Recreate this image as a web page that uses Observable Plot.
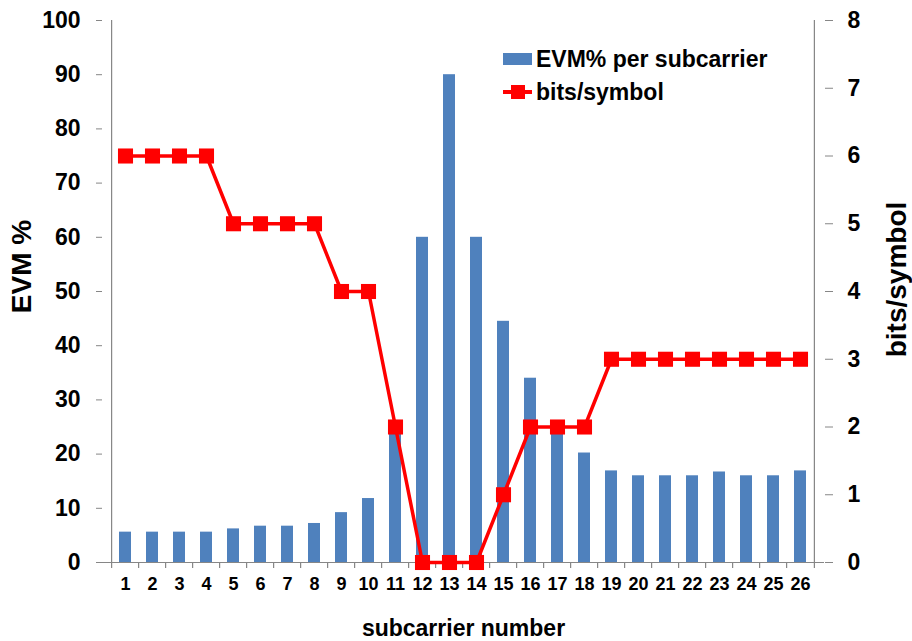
<!DOCTYPE html>
<html><head><meta charset="utf-8">
<script src="https://cdn.jsdelivr.net/npm/d3@7"></script>
<script src="https://cdn.jsdelivr.net/npm/@observablehq/plot@0.6"></script>
<style>
body{margin:0;background:#fff;font-family:"Liberation Sans",Arial,sans-serif;}
#wrap{position:relative;width:912px;height:641px;overflow:hidden;}
.lg{position:absolute;left:503px;font-weight:bold;font-size:23px;color:#000;display:flex;align-items:center;height:24px;white-space:nowrap;}
.sw{width:29px;height:12px;background:#4F81BD;margin-right:4px;}
.ln{position:relative;width:29px;height:4px;background:#ff0000;margin-right:4px;}
.ln::after{content:"";position:absolute;left:8px;top:-5px;width:14px;height:14px;background:#ff0000;}
</style></head><body>
<div id="wrap"></div>
<script>
const subcarriers = [1,2,3,4,5,6,7,8,9,10,11,12,13,14,15,16,17,18,19,20,21,22,23,24,25,26];
const evmPercent = [5.6,5.6,5.6,5.6,6.2,6.7,6.7,7.2,9.2,11.8,25,60,90,60,44.5,34,25,20.2,16.9,16,16,16,16.7,16,16,16.9];
const bitsPerSymbol = [6,6,6,6,5,5,5,5,4,4,2,0,0,0,1,2,2,2,3,3,3,3,3,3,3,3];
const leftTicks = [0,10,20,30,40,50,60,70,80,90,100];
const rightTicks = [0,1,2,3,4,5,6,7,8];
const legendLabels = ["EVM% per subcarrier","bits/symbol"];

const data = subcarriers.map((n,i)=>({n, evm: evmPercent[i], bits: bitsPerSymbol[i]}));
const W = 912, H = 641, mL = 102, mR = 88, mT = 20, mB = 79;
const step = (W - mL - mR) / subcarriers.length;
const pxPerUnit = (H - mT - mB) / 100;
const ratio = 100 / 8; // right axis (0..8) mapped onto left axis (0..100)
const axisGray = "#868686";
const tickLen = 6 / pxPerUnit;

const chart = Plot.plot({
  width: W, height: H,
  marginLeft: mL, marginRight: mR, marginTop: mT, marginBottom: mB,
  style: {fontFamily: "'Liberation Sans', Arial, sans-serif", background: "#fff", color: "#000"},
  x: {type: "band", domain: subcarriers, paddingInner: 0.545, paddingOuter: 0.2725},
  y: {domain: [0, 100]},
  marks: [
    Plot.barY(data, {x: "n", y: "evm", fill: "#4F81BD"}),
    // axis lines
    Plot.ruleY([0], {stroke: axisGray, strokeWidth: 1.2}),
    Plot.ruleX([subcarriers[0]], {x: d => d, y1: 0, y2: 100, dx: -step/2, stroke: axisGray, strokeWidth: 1.2}),
    Plot.ruleX([subcarriers[subcarriers.length-1]], {x: d => d, y1: 0, y2: 100, dx: step/2, stroke: axisGray, strokeWidth: 1.2}),
    // x ticks at category boundaries
    Plot.ruleX(subcarriers, {x: d => d, y1: 0, y2: -tickLen, dx: -step/2, stroke: axisGray, strokeWidth: 1.2}),
    Plot.ruleX([subcarriers[subcarriers.length-1]], {x: d => d, y1: 0, y2: -tickLen, dx: step/2, stroke: axisGray, strokeWidth: 1.2}),
    Plot.axisY(leftTicks, {anchor: "left", tickSize: 6, tickPadding: 16, fontSize: 23, fontWeight: "bold", stroke: axisGray, fill: "#000", label: null}),
    Plot.axisY(rightTicks.map(d => d * ratio), {anchor: "right", tickSize: 8, tickPadding: 15, tickFormat: d => d / ratio, fontSize: 23, fontWeight: "bold", stroke: axisGray, fill: "#000", label: null}),
    Plot.axisX({tickSize: 0, tickPadding: 15, fontSize: 18, fontWeight: "bold", fill: "#000", label: null}),
    Plot.line(data, {x: "n", y: d => d.bits * ratio, stroke: "#ff0000", strokeWidth: 3.5}),
    Plot.dot(data, {x: "n", y: d => d.bits * ratio, symbol: "square", r: 8.5, fill: "#ff0000"}),
    Plot.text(["EVM %"], {frameAnchor: "left", textAnchor: "middle", lineAnchor: "middle", dx: -80, dy: -25, rotate: -90, fontSize: 28, fontWeight: "bold", fill: "#000"}),
    Plot.text(["bits/symbol"], {frameAnchor: "right", textAnchor: "middle", lineAnchor: "middle", dx: 73, dy: -12, rotate: -90, fontSize: 28, fontWeight: "bold", fill: "#000"}),
    Plot.text(["subcarrier number"], {frameAnchor: "bottom", textAnchor: "middle", lineAnchor: "middle", dy: 66, fontSize: 23, fontWeight: "bold", fill: "#000"})
  ]
});
const wrap = document.getElementById("wrap");
wrap.appendChild(chart);
const l1 = document.createElement("div");
l1.className = "lg"; l1.style.top = "47px";
l1.innerHTML = `<span class="sw"></span><span>${legendLabels[0]}</span>`;
const l2 = document.createElement("div");
l2.className = "lg"; l2.style.top = "80px";
l2.innerHTML = `<span class="ln"></span><span>${legendLabels[1]}</span>`;
wrap.appendChild(l1); wrap.appendChild(l2);
</script>
</body></html>
